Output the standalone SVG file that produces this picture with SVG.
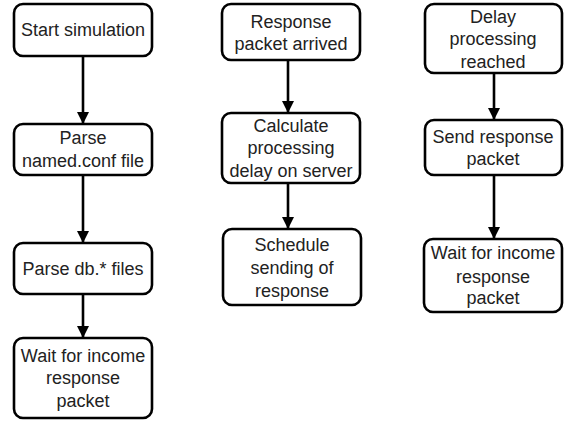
<svg xmlns="http://www.w3.org/2000/svg" width="566" height="422" viewBox="0 0 566 422">
<style>
.box{fill:#fff;stroke:#000;stroke-width:2.6}
.t{font-family:"Liberation Sans",Arial,sans-serif;font-size:18px;fill:#222;text-anchor:middle}
.c{stroke:#000;stroke-width:2.6;fill:none;marker-end:url(#ah)}
</style>
<defs>
<marker id="ah" markerUnits="userSpaceOnUse" markerWidth="12" markerHeight="12" viewBox="0 0 12 12" refX="12" refY="6" orient="auto">
<path d="M0,0 L12,6 L0,12 z" fill="#000"/>
</marker>
</defs>
<rect width="566" height="422" fill="#fff"/>
<g id="connectors">
<line class="c" x1="83" y1="56" x2="83" y2="124"/>
<line class="c" x1="83" y1="175" x2="83" y2="243"/>
<line class="c" x1="83" y1="294" x2="83" y2="338"/>
<line class="c" x1="288" y1="60" x2="288" y2="113"/>
<line class="c" x1="288" y1="183" x2="288" y2="229"/>
<line class="c" x1="494" y1="73" x2="494" y2="120"/>
<line class="c" x1="494" y1="175" x2="494" y2="239"/>
</g>
<g id="n1"><rect class="box" x="14" y="4" width="138" height="52" rx="9"/><text class="t" x="83" y="36">Start simulation</text></g>
<g id="n2"><rect class="box" x="14" y="124" width="138" height="51" rx="9"/><text class="t" x="83" y="144">Parse</text><text class="t" x="83" y="167">named.conf file</text></g>
<g id="n3"><rect class="box" x="14" y="243" width="138" height="51" rx="9"/><text class="t" x="83" y="275">Parse db.* files</text></g>
<g id="n4"><rect class="box" x="14" y="338" width="138" height="80" rx="9"/><text class="t" x="83" y="362">Wait for income</text><text class="t" x="83" y="384">response</text><text class="t" x="83" y="407">packet</text></g>
<g id="n5"><rect class="box" x="222" y="4" width="138" height="56" rx="9"/><text class="t" x="291" y="28">Response</text><text class="t" x="291" y="50">packet arrived</text></g>
<g id="n6"><rect class="box" x="222" y="113" width="138" height="70" rx="9"/><text class="t" x="291" y="132">Calculate</text><text class="t" x="291" y="154">processing</text><text class="t" x="291" y="177">delay on server</text></g>
<g id="n7"><rect class="box" x="223" y="229" width="138" height="76" rx="9"/><text class="t" x="292" y="251">Schedule</text><text class="t" x="292" y="274">sending of</text><text class="t" x="292" y="297">response</text></g>
<g id="n8"><rect class="box" x="425" y="4" width="137" height="69" rx="9"/><text class="t" x="493" y="23">Delay</text><text class="t" x="493" y="45">processing</text><text class="t" x="493" y="68">reached</text></g>
<g id="n9"><rect class="box" x="425" y="120" width="137" height="55" rx="9"/><text class="t" x="493" y="143">Send response</text><text class="t" x="493" y="165">packet</text></g>
<g id="n10"><rect class="box" x="424" y="239" width="138" height="73" rx="9"/><text class="t" x="493" y="259">Wait for income</text><text class="t" x="493" y="283">response</text><text class="t" x="493" y="304">packet</text></g>
</svg>
